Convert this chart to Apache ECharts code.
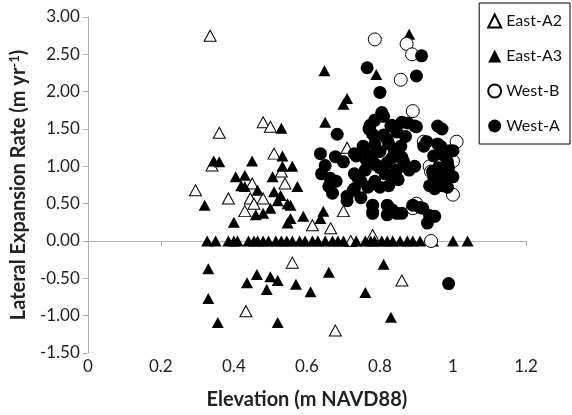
<!DOCTYPE html>
<html>
<head>
<meta charset="utf-8">
<script src="https://cdn.jsdelivr.net/npm/echarts@6/dist/echarts.min.js"></script>
<style>
  html, body { margin: 0; padding: 0; background: #fff; }
  #chart { width: 572px; height: 415px; }
</style>
</head>
<body>
<div id="chart"></div>
<script>
// data: [elevation, lateral expansion rate]
var eastA2 = [
  [0.335, 2.75], [0.36, 1.45], [0.48, 1.59], [0.50, 1.53], [0.34, 1.01],
  [0.45, 0.77], [0.295, 0.68], [0.385, 0.57], [0.445, 0.57], [0.48, 0.57],
  [0.455, 0.50], [0.43, 0.40], [0.71, 1.25], [0.51, 1.17], [0.53, 0.93],
  [0.54, 0.77], [0.70, 0.40], [0.615, 0.21], [0.665, 0.17], [0.78, 0.48],
  [0.78, 0.08], [0.72, 0.00], [0.433, -0.94], [0.56, -0.29], [0.86, -0.53],
  [0.678, -1.20]
];
var eastA3 = [
  [0.88, 2.77], [0.79, 2.23], [0.648, 2.28], [0.71, 1.91], [0.70, 1.83],
  [0.53, 1.51], [0.65, 1.59], [0.345, 1.07], [0.36, 1.06], [0.45, 1.07],
  [0.405, 0.86], [0.43, 0.88], [0.42, 0.74], [0.43, 0.73], [0.465, 0.68],
  [0.32, 0.48], [0.40, 0.25], [0.46, 0.35], [0.533, 1.14], [0.533, 1.00],
  [0.56, 1.00], [0.506, 0.86], [0.574, 0.73], [0.51, 0.66], [0.528, 0.61],
  [0.547, 0.50], [0.555, 0.48], [0.52, 0.54], [0.50, 0.44], [0.48, 0.37],
  [0.59, 0.33], [0.555, 0.30], [0.547, 0.24], [0.645, 0.40], [0.637, 0.30],
  [0.327, 0], [0.35, 0], [0.385, 0], [0.40, 0], [0.41, 0], [0.44, 0],
  [0.455, 0], [0.465, 0], [0.48, 0], [0.495, 0], [0.515, 0], [0.53, 0],
  [0.545, 0], [0.56, 0], [0.58, 0], [0.595, 0], [0.615, 0], [0.63, 0],
  [0.65, 0], [0.67, 0], [0.685, 0], [0.70, 0], [0.735, 0], [0.76, 0],
  [0.775, 0], [0.785, 0], [0.805, 0], [0.82, 0], [0.835, 0], [0.855, 0],
  [0.875, 0], [0.89, 0], [0.91, 0], [0.945, 0], [1.00, 0], [1.04, 0],
  [0.33, -0.37], [0.463, -0.45], [0.50, -0.48], [0.436, -0.56], [0.49, -0.65],
  [0.33, -0.77], [0.356, -1.09], [0.52, -1.09], [0.52, -0.53], [0.57, -0.58],
  [0.61, -0.68], [0.66, -0.42], [0.76, -0.69], [0.81, -0.31], [0.83, -1.02]
];
var westB = [
  [0.786, 2.70], [0.873, 2.64], [0.888, 2.50], [0.857, 2.16], [0.89, 1.74],
  [1.01, 1.33], [0.92, 1.33], [1.00, 1.07], [0.936, 1.00], [1.00, 0.62],
  [0.94, 0.93], [0.90, 0.50], [0.89, 0.44], [0.94, 0.00]
];
var westA = [
  [0.765, 2.32], [0.80, 1.99], [0.914, 2.48], [0.90, 2.21], [0.81, 1.67],
  [0.83, 1.54], [0.86, 1.59], [0.895, 1.54], [0.958, 1.54], [0.683, 1.43],
  [0.637, 1.17], [0.678, 1.13], [0.70, 1.06], [0.65, 1.01], [0.64, 0.90],
  [0.664, 0.84], [0.68, 0.80], [0.66, 0.73], [0.67, 0.64], [0.71, 0.60],
  [0.73, 1.17], [0.754, 1.27], [0.77, 1.50], [0.74, 0.84], [0.727, 0.68],
  [0.78, 0.48], [0.78, 0.37], [0.82, 0.48], [0.82, 0.35], [0.846, 0.37],
  [0.92, 1.27], [0.958, 1.30], [0.99, 1.21], [0.985, 1.06], [0.944, 0.93],
  [0.97, 0.93], [0.963, 0.84], [0.99, 0.88], [0.936, 0.74], [0.97, 0.74],
  [0.86, 0.37], [0.89, 0.48], [0.917, 0.44], [0.936, 0.34], [0.95, 0.33],
  [0.93, 0.24], [0.786, 1.62], [0.773, 1.55], [0.833, 1.55], [0.876, 1.58],
  [0.90, 1.53], [0.97, 1.50], [0.78, 1.43], [0.81, 1.42], [0.846, 1.46],
  [0.786, 1.30], [0.824, 1.30], [0.857, 1.27], [0.756, 1.25], [0.735, 1.14],
  [0.928, 1.33], [0.966, 1.27], [0.762, 1.09], [0.789, 1.02], [0.833, 1.11],
  [0.865, 1.06], [0.895, 1.00], [0.846, 0.95], [0.814, 0.90], [0.947, 1.14],
  [0.974, 1.15], [1.00, 1.21], [0.96, 0.98], [0.988, 0.98], [0.947, 0.86],
  [0.974, 0.84], [1.00, 0.86], [0.95, 0.70], [0.985, 0.72], [0.73, 0.90],
  [0.748, 0.80], [0.73, 0.70], [0.767, 0.72], [0.786, 0.80], [0.80, 0.72],
  [0.824, 0.74], [0.833, 0.89], [0.71, 0.54], [0.748, 0.58], [0.833, 0.42],
  [0.91, 0.45], [0.805, 1.72], [0.80, 1.20], [0.82, 1.05], [0.84, 1.20],
  [0.87, 1.40], [0.80, 0.98], [0.85, 0.82], [0.78, 1.15], [0.76, 0.95],
  [0.86, 1.12], [0.88, 0.95], [0.82, 1.36], [0.988, -0.57]
];
var seriesNames = ['East-A2', 'East-A3', 'West-B', 'West-A'];

var font = 'Lato, "Open Sans", sans-serif';
var chart = echarts.init(document.getElementById('chart'));

function openStyle() {
  return { color: '#fff', borderColor: '#000', borderWidth: 1, opacity: 1 };
}
function solidStyle() {
  return { color: '#000', borderColor: '#000', borderWidth: 0, opacity: 1 };
}

var option = {
  animation: false,
  textStyle: { fontFamily: font },
  grid: { left: 86, right: 46, top: 17, bottom: 59 },
  legend: {
    orient: 'vertical',
    right: 2,
    top: 3,
    padding: [10, 8, 10, 8],
    itemGap: 19,
    itemWidth: 13,
    itemHeight: 13,
    borderColor: '#000',
    borderWidth: 1,
    textStyle: { fontSize: 16, color: '#111', fontFamily: font },
    data: seriesNames
  },
  xAxis: [{
    type: 'value',
    min: 0, max: 1.2, interval: 0.2,
    name: 'Elevation (m NAVD88)',
    nameLocation: 'middle',
    nameGap: 37,
    nameTextStyle: { fontSize: 20, fontWeight: 'bold', color: '#222', fontFamily: font },
    axisLine: { show: false, onZero: false },
    axisTick: { show: false },
    splitLine: { show: false },
    axisLabel: {
      fontSize: 17, color: '#222', margin: 5,
      formatter: function (v) { return String(Math.round(v * 10) / 10); }
    }
  }, {
    type: 'value',
    position: 'bottom',
    min: 0, max: 1.2, interval: 0.2,
    axisLine: { show: true, onZero: true, lineStyle: { color: '#b0b0b0', width: 1 } },
    axisTick: { show: true, length: 5, lineStyle: { color: '#b0b0b0' } },
    axisLabel: { show: false },
    splitLine: { show: false }
  }],
  yAxis: {
    type: 'value',
    min: -1.5, max: 3, interval: 0.5,
    name: 'Lateral Expansion Rate (m yr{sup|-1})',
    nameLocation: 'middle',
    nameGap: 54,
    nameTextStyle: {
      fontSize: 20, fontWeight: 'bold', color: '#222', fontFamily: font,
      rich: {
        sup: { fontSize: 13, fontWeight: 'bold', verticalAlign: 'top', padding: [0, 0, 9, 0], color: '#222' }
      }
    },
    axisLine: { show: true, lineStyle: { color: '#b0b0b0', width: 1 } },
    axisTick: { show: true, length: 5, lineStyle: { color: '#b0b0b0' } },
    splitLine: { show: false },
    axisLabel: {
      fontSize: 17, color: '#222', margin: 8,
      formatter: function (v) { return v.toFixed(2); }
    }
  },
  series: [{
    name: seriesNames[0], type: 'scatter', symbol: 'triangle', symbolSize: [12, 11],
    itemStyle: openStyle(), data: eastA2, z: 3
  }, {
    name: seriesNames[1], type: 'scatter', symbol: 'triangle', symbolSize: [12, 11],
    itemStyle: solidStyle(), data: eastA3, z: 4
  }, {
    name: seriesNames[2], type: 'scatter', symbol: 'circle', symbolSize: 13,
    itemStyle: openStyle(), data: westB, z: 5
  }, {
    name: seriesNames[3], type: 'scatter', symbol: 'circle', symbolSize: 13,
    itemStyle: solidStyle(), data: westA, z: 6
  }]
};
chart.setOption(option);
</script>
</body>
</html>
